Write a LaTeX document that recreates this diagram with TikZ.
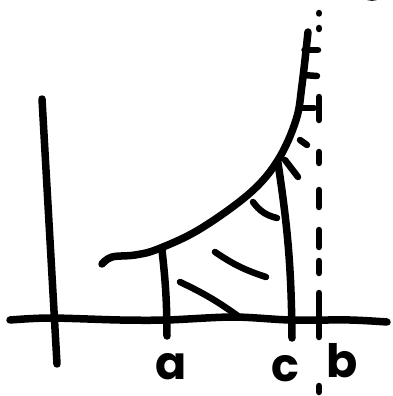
\documentclass[tikz,border=0pt]{standalone}
\usepackage{fontspec}
\newfontfamily\handfont{Poppins}
\usepackage{tikz}
\usetikzlibrary{positioning}
\tikzset{
  pen/.style={line width=7.5pt,line cap=round,line join=round},
  thinpen/.style={line width=6.5pt,line cap=round},
  lbl/.style={font=\handfont\fontsize{46}{46}\selectfont\bfseries,inner sep=0pt}
}

\begin{document}
\begin{tikzpicture}[x=1pt,y=-1pt]
  \useasboundingbox (0,0) rectangle (392,396);
  \clip (0,0) rectangle (392,396);
  % axes
  \coordinate (ytop) at (42,99);
  \coordinate (ybot) at (57,364);
  \draw[pen] (ytop) -- (ybot);
  \draw[pen] plot[smooth] coordinates {(10,320) (50,318) (120,320) (167,320) (233,317) (290,320) (350,320) (387,322)};
  % curve
  \draw[pen] plot[smooth,tension=0.6] coordinates {(102,264) (112,257) (135,255) (158,249) (200,229) (250,193) (278,160) (296,120) (302,85) (308,32)};
  % a and c
  \coordinate (atop) at (162,250);
  \coordinate (abot) at (167,336);
  \draw[pen] (atop) to[bend left=3] (abot);
  \coordinate (ctop) at (278,163);
  \coordinate (cbot) at (292,338);
  \draw[pen] (ctop) to[bend left=4] (cbot);
  % asymptote b
  \foreach \y/\l in {13/13.5,28/29,97/120,152/163,190/207,230/247,261/273,293/337,386/392}
    \draw[thinpen] (319,\y) -- (319,\l);
  % hatching
  \foreach \ya/\xb/\yb in {50/318/50,75/317/76,108/314/108,140/307/145}
    \draw[thinpen] (307-0.05*\ya,\ya) -- (\xb,\yb);
  \draw[thinpen] (285,160) -- (298,177);
  \draw[thinpen] (253,202) to[bend right=20] (277,218);
  \draw[thinpen] (215,252) to[bend right=8] (266,277);
  \draw[thinpen] (180,282) to[bend left=5] (238,316);
  % stray mark
  \draw[line width=3pt] (364,-3) to[bend right=30] (380,-3);
  % labels
  \node[lbl] (la) at (171,367) {a};
  \node[lbl] (lc) at (285,369) {c};
  \node[lbl] (lb) at (342,361) {b};
\end{tikzpicture}
\end{document}
